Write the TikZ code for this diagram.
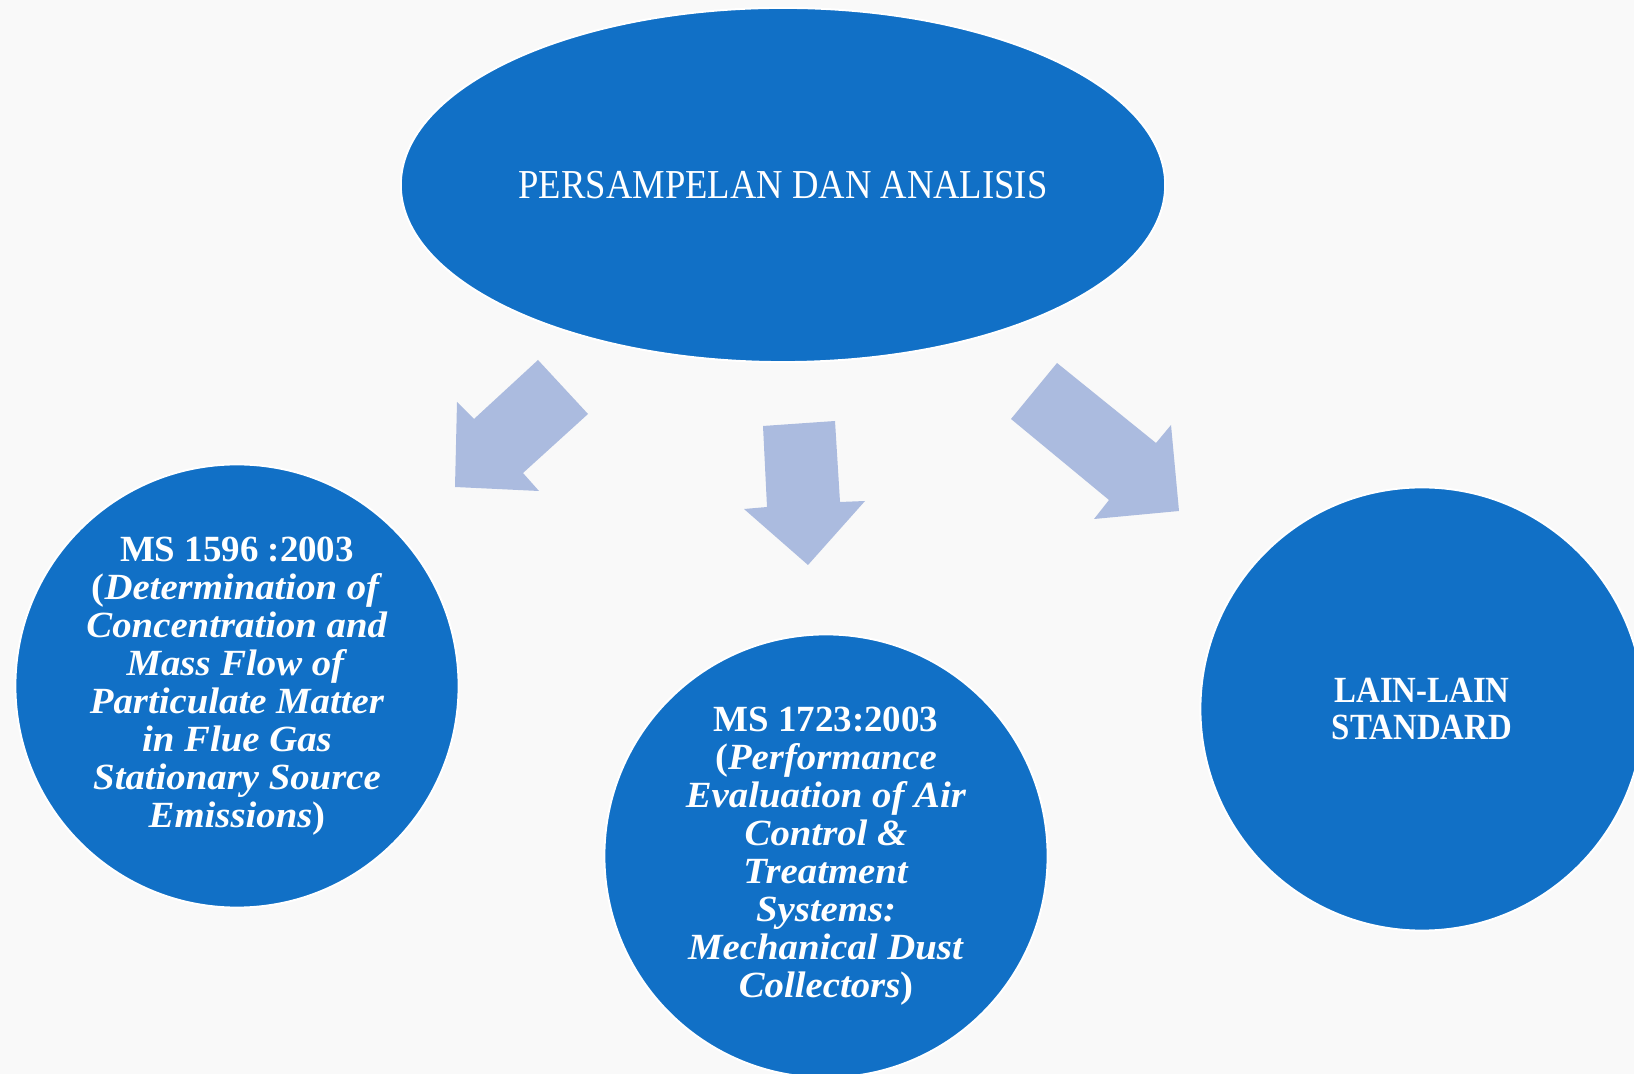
\documentclass[tikz,border=0pt]{standalone}
\usepackage{fontspec}
\setmainfont{Liberation Serif}
\newfontfamily\narrowfont[FakeStretch=0.89]{Liberation Serif}
\newfontfamily\widefont[FakeStretch=1.05]{Liberation Serif}
\usetikzlibrary{shapes.geometric, positioning}
\definecolor{blobblue}{RGB}{17,112,198}
\definecolor{arrowblue}{RGB}{171,187,223}
\definecolor{paper}{RGB}{249,249,249}

\begin{document}
\begin{tikzpicture}[x=0.01cm, y=-0.01cm,
		blob/.style={draw=white, line width=0.02cm, fill=blobblue,
			text=white, align=center, inner sep=0pt},
		round blob/.style={blob, circle, minimum size=4.43cm,
			font=\widefont\bfseries\fontsize{10.5pt}{10.8pt}\selectfont},
		block arrow/.style={fill=arrowblue}
		]
		\fill [paper] (0,0) rectangle (1634,1074);
		\useasboundingbox (0,0) rectangle (1634,1074);
		\node [blob, ellipse, minimum width=7.64cm, minimum height=3.54cm,
			font=\narrowfont\fontsize{11.7pt}{14pt}\selectfont]
			(sampling) at (783,185) {PERSAMPELAN DAN ANALISIS};
		\node [round blob] (particulate) at (237,686)
			{{\rmfamily MS 1596 :2003}\\
			(\textit{Determination of}\\
			\textit{Concentration and}\\
			\textit{Mass Flow of}\\
			\textit{Particulate Matter}\\
			\textit{in Flue Gas}\\
			\textit{Stationary Source}\\
			\textit{Emissions})};
		\node [round blob] (collectors) at (826,856)
			{{\rmfamily MS 1723:2003}\\
			(\textit{Performance}\\
			\textit{Evaluation of Air}\\
			\textit{Control \&}\\
			\textit{Treatment}\\
			\textit{Systems:}\\
			\textit{Mechanical Dust}\\
			\textit{Collectors})};
		\node [round blob, font=\narrowfont\bfseries\fontsize{10.5pt}{10.8pt}\selectfont]
			(others) at (1422,709) {LAIN-LAIN\\ STANDARD};
		\fill [block arrow] (538,360) -- (588,414) -- (523,473) -- (539,491)
			-- (455,487) -- (457,402) -- (474,419) -- cycle;
		\fill [block arrow] (763,426) -- (835,421) -- (840,502) -- (865,501)
			-- (808,565) -- (744,509) -- (767,507) -- cycle;
		\fill [block arrow] (1057,363) -- (1011,419) -- (1109,500) -- (1094,519)
			-- (1179,511) -- (1171,425) -- (1156,443) -- cycle;
	\end{tikzpicture}
\end{document}
